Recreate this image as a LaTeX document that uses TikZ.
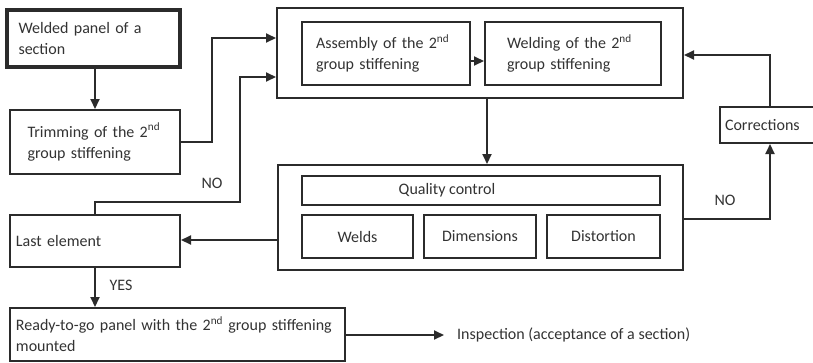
\documentclass[tikz,border=0pt]{standalone}
\usepackage{fontspec}
\setmainfont{Carlito}
\usetikzlibrary{arrows.meta}
\definecolor{ln}{HTML}{2B2B2B}
\definecolor{tx}{HTML}{333333}
\tikzset{
  box/.style={draw=ln, line width=2pt, rectangle, inner sep=0pt, text=tx, font=\fontsize{16}{21}\selectfont},
  conn/.style={draw=ln, line width=2pt},
  arr/.style={conn, -{Triangle[length=10pt,width=9pt]}},
  lbl/.style={text=tx, font=\fontsize{16}{21}\selectfont, inner sep=0pt}
}
\newcommand{\nd}{\textsuperscript{nd}}
\begin{document}
\begin{tikzpicture}[x=1pt,y=-1pt]
\useasboundingbox (0,0) rectangle (813,362);
\fill[white] (0,0) rectangle (813,362);
\clip (0,0) rectangle (813,362);
% nodes
\node[box, line width=4pt, minimum width=173pt, minimum height=57pt, text width=150pt, align=left] (weld) at (93.5,38.5) {Welded panel of a\\section};
\node[box, minimum width=170pt, minimum height=64pt, text width=135pt, align=left] (trim) at (95,142) {Trimming of the 2\nd\\group stiffening};
\node[box, minimum width=406pt, minimum height=90pt] (top) at (480,53) {};
\node[box, minimum width=168pt, minimum height=63pt, text width=140pt, align=left] (asm) at (386,53.5) {Assembly of the 2\nd\\group stiffening};
\node[box, minimum width=176pt, minimum height=63pt, text width=132pt, align=left] (wel) at (573,53.5) {Welding of the 2\nd\\group stiffening};
\node[box, minimum width=110pt, minimum height=36pt, text width=100pt, align=left] (cor) at (775,125) {\raisebox{-4pt}{Corrections}};
\node[box, minimum width=405pt, minimum height=105pt] (qc) at (480.5,217.5) {};
\node[box, minimum width=358pt, minimum height=29pt] (qcl) at (481,190.5) {};
\node[lbl] (qct) at (447,190) {Quality control};
\node[box, minimum width=111pt, minimum height=43pt] (wds) at (357.5,236.5) {\raisebox{-4pt}{Welds}};
\node[box, minimum width=112pt, minimum height=43pt] (dim) at (480,236.5) {Dimensions};
\node[box, minimum width=113pt, minimum height=43pt] (dis) at (603.5,236.5) {Distortion};
\node[box, minimum width=170pt, minimum height=52pt, text width=158pt, align=left] (last) at (95,241) {\raisebox{-4pt}{Last element}};
\node[box, minimum width=335pt, minimum height=53pt, text width=323pt, align=left] (ready) at (177.5,334.5) {\raisebox{-6pt}{\parbox{323pt}{\raggedright Ready-to-go panel with the 2\nd\ group stiffening\\mounted}}};
\node[lbl, anchor=west] (insp) at (457,335) {Inspection (acceptance of a section)};
\node[lbl] (no1) at (212,183) {NO};
\node[lbl] (no2) at (725,200) {NO};
\node[lbl] (yes) at (121,285) {YES};
% connectors
\draw[arr] (weld.south -| trim.north) -- (trim.north);
\draw[arr] (trim.east |- 0,142) -- (212,142) -- (212,38) -- (top.west |- 0,38);
\draw[arr] (last.north) -- (95,202) -- (240,202) -- (240,77) -- (top.west |- 0,77);
\draw[arr] (asm.east |- 0,61) -- (wel.west |- 0,61);
\draw[arr] (487,98) coordinate (tb) (top.south -| tb) -- (qc.north -| tb);
\draw[arr] (cor.north -| 770,0) -- (770,55) -- (top.east |- 0,55);
\draw[arr] (qc.east |- 0,219) -- (770,219) -- (cor.south -| 770,0);
\draw[arr] (qc.west |- 0,240) -- (last.east |- 0,240);
\draw[arr] (last.south) -- (last.south |- ready.north);
\draw[arr, shorten >=13pt] (ready.east |- insp.west) -- (insp.west);
\end{tikzpicture}
\end{document}
